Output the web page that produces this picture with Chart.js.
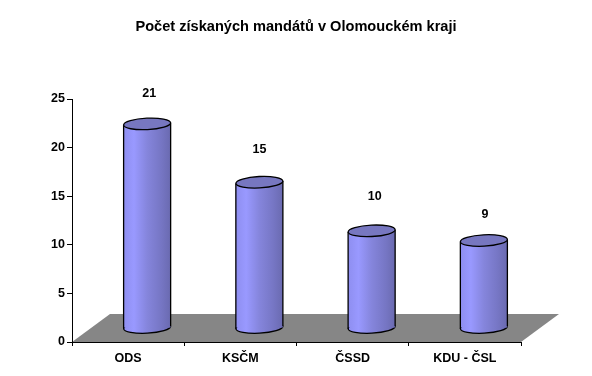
<!DOCTYPE html>
<html>
<head>
<meta charset="utf-8">
<style>
  html, body { margin: 0; padding: 0; background: #fff; }
  canvas { display: block; }
</style>
<script src="https://cdn.jsdelivr.net/npm/chart.js@4"></script>
</head>
<body>
<canvas id="graf" width="592" height="376"></canvas>
<script>
const chartTitle = "Počet získaných mandátů v Olomouckém kraji";
const categories = ["ODS", "KSČM", "ČSSD", "KDU - ČSL"];
const mandates = [21, 15, 10, 9];

// depth of the fake 3D: the floor runs back 38/28 px, the bars stand half way
const floorDepth = { x: 38, y: 28 };
const barShift = { x: 19, y: -14 };
const capRadiusY = 5.7;
const capTilt = -0.05;
// the value labels do not sit at a constant distance in the original
const labelNudge = [[2, -30], [0, -33], [3, -34], [1, -26]];
const fontName = '"Liberation Sans", Arial, sans-serif';

function sideGradient(c, x, w) {
    const g = c.createLinearGradient(x - w / 2, 0, x + w / 2, 0);
    g.addColorStop(0, "#8e8ef0");
    g.addColorStop(0.22, "#9999ff");
    g.addColorStop(0.5, "#8585dc");
    g.addColorStop(0.8, "#7676c4");
    g.addColorStop(1, "#6a6ab0");
    return g;
}

const cylinders = {
    id: "cylinders",
    afterLayout(chart) {
        // title is centred on the whole canvas, not on the padded box
        chart.titleBlock.left = 0;
        chart.titleBlock.right = chart.width;
    },
    beforeDraw(chart) {
        const a = chart.chartArea, c = chart.ctx;
        c.save();
        c.fillStyle = "#868686";
        c.beginPath();
        c.moveTo(a.left, a.bottom);
        c.lineTo(a.right, a.bottom);
        c.lineTo(a.right + floorDepth.x, a.bottom - floorDepth.y);
        c.lineTo(a.left + floorDepth.x, a.bottom - floorDepth.y);
        c.closePath();
        c.fill();
        c.restore();
    },
    beforeDatasetsDraw(chart) {
        const c = chart.ctx;
        c.save();
        c.translate(barShift.x, barShift.y);
        chart.getDatasetMeta(0).data.forEach(function (bar) {
            c.beginPath();
            c.ellipse(bar.x, bar.base, bar.width / 2, capRadiusY, capTilt, 0, Math.PI * 2);
            c.fillStyle = sideGradient(c, bar.x, bar.width);
            c.fill();
            c.strokeStyle = "#000";
            c.lineWidth = 1.3;
            c.stroke();
        });
    },
    afterDatasetsDraw(chart) {
        const c = chart.ctx;
        chart.getDatasetMeta(0).data.forEach(function (bar) {
            const r = bar.width / 2, dy = Math.sin(capTilt) * r;
            c.strokeStyle = "#000";
            c.lineWidth = 1.3;
            c.beginPath();
            c.moveTo(bar.x - r, bar.y - dy);
            c.lineTo(bar.x - r, bar.base - dy);
            c.moveTo(bar.x + r, bar.y + dy);
            c.lineTo(bar.x + r, bar.base + dy);
            c.stroke();
            c.beginPath();
            c.ellipse(bar.x, bar.y, r, capRadiusY, capTilt, 0, Math.PI * 2);
            c.fillStyle = "#7777c0";
            c.fill();
            c.stroke();
        });
        c.restore();

        c.save();
        c.fillStyle = "#000";
        c.font = "bold 12.5px " + fontName;
        c.textAlign = "center";
        c.textBaseline = "middle";
        chart.getDatasetMeta(0).data.forEach(function (bar, i) {
            c.fillText(mandates[i], bar.x + barShift.x + labelNudge[i][0], bar.y + barShift.y + labelNudge[i][1]);
        });
        c.restore();
    },
};

new Chart(document.getElementById("graf").getContext("2d"), {
    type: "bar",
    data: {
        labels: categories,
        datasets: [
            {
                data: mandates,
                barPercentage: 0.419,
                categoryPercentage: 1,
                borderWidth: 0,
                backgroundColor: function (ctx) {
                    const sc = ctx.chart.scales.x;
                    if (!sc || ctx.dataIndex === undefined) return "#8585dc";
                    const x = sc.getPixelForValue(ctx.dataIndex);
                    const w = (sc.width / categories.length) * 0.419;
                    if (!Number.isFinite(x) || !Number.isFinite(w)) return "#8585dc";
                    return sideGradient(ctx.chart.ctx, x, w);
                },
            },
        ],
    },
    plugins: [cylinders],
    options: {
        responsive: false,
        animation: false,
        layout: { padding: { top: 0, left: 0, right: 71, bottom: 0 } },
        plugins: {
            legend: { display: false },
            tooltip: { enabled: false },
            title: {
                display: true,
                text: chartTitle,
                color: "#000",
                font: { family: fontName, size: 14.6, weight: "bold" },
                padding: { top: 18.5, bottom: 63 },
            },
        },
        scales: {
            x: {
                afterFit: function (scale) { scale.height = 34; },
                grid: { offset: true, drawOnChartArea: false, tickLength: 4, color: "#000" },
                border: { color: "#000", width: 1 },
                ticks: { color: "#000", padding: 5, maxRotation: 0, font: { family: fontName, size: 12.5, weight: "bold" } },
            },
            y: {
                min: 0,
                max: 25,
                afterFit: function (scale) { scale.width = 72; },
                grid: { drawOnChartArea: false, tickLength: 5, color: "#000" },
                border: { color: "#000", width: 1 },
                ticks: { stepSize: 5, color: "#000", padding: 2, font: { family: fontName, size: 12.5, weight: "bold" } },
            },
        },
    },
});
</script>
</body>
</html>
